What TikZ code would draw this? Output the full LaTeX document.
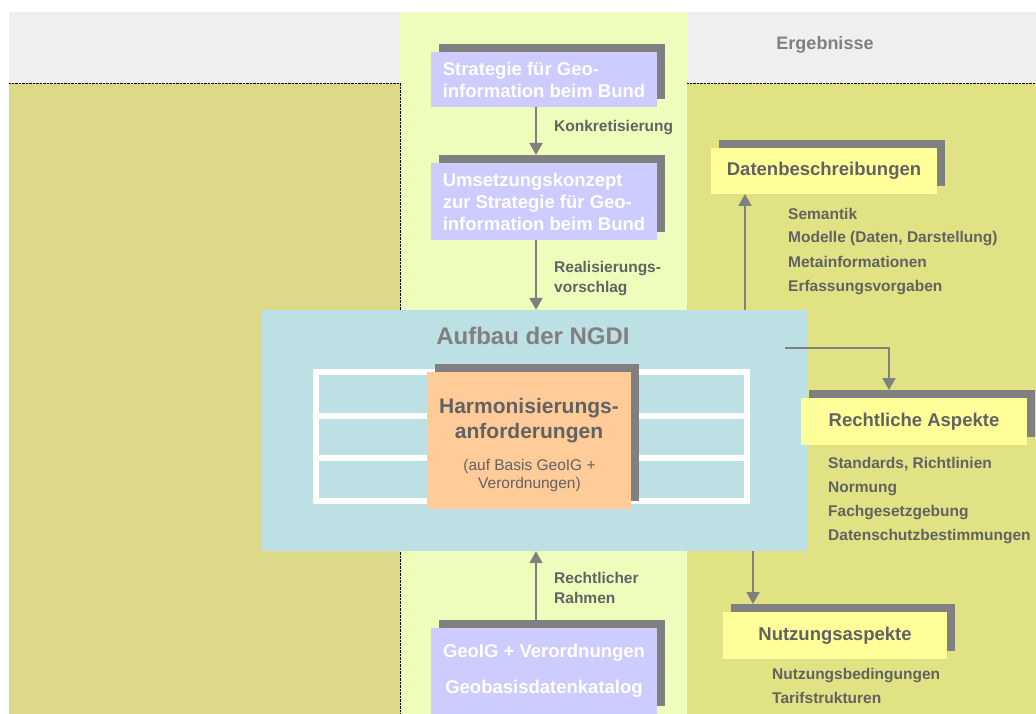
\documentclass[tikz,border=0pt]{standalone}
\usepackage{fontspec}
\setmainfont{Liberation Sans}
\usetikzlibrary{arrows.meta,shadows}

\definecolor{headgray}{HTML}{EFEFEF}
\definecolor{leftkhaki}{HTML}{DCDA88}
\definecolor{rightkhaki}{HTML}{E1E283}
\definecolor{midgreen}{HTML}{EEFDBC}
\definecolor{boxpurple}{HTML}{CCCCFF}
\definecolor{boxyellow}{HTML}{FFFF99}
\definecolor{ngdiblue}{HTML}{BCE0E4}
\definecolor{harmorange}{HTML}{FFCC99}
\definecolor{shadowgray}{HTML}{808080}
\definecolor{textgray}{HTML}{626262}

\begin{document}
\begin{tikzpicture}
        [%%%%%%%%%%%%%%%%%%%%%%%%%%%%%%
        x=1pt, y=-1pt,
        shadowbox/.style={rectangle, inner sep=0pt, outer sep=0pt,
          drop shadow={shadow xshift=8pt, shadow yshift=8pt, fill=shadowgray, opacity=1}},
        bundbox/.style={shadowbox, fill=boxpurple, text=white, font=\bfseries\fontsize{18.5}{22}\selectfont},
        resbox/.style={shadowbox, fill=boxyellow, text=textgray, font=\bfseries\fontsize{18.5}{22}\selectfont},
        lbl/.style={anchor=base west, inner sep=0pt, text=textgray, font=\bfseries\fontsize{15.5}{20}\selectfont},
        arr/.style={draw=shadowgray, line width=2pt, -{Triangle[width=13pt,length=12pt]}},
        ]%%%%%%%%%%%%%%%%%%%%%%%%%%%%%%
        \useasboundingbox (0,0) rectangle (1036,714);
        % Background columns
        \fill[headgray] (9,12) rectangle (1036,83);
        \fill[leftkhaki] (9,83) rectangle (400,714);
        \fill[rightkhaki] (687,83) rectangle (1036,714);
        \fill[midgreen] (400,12) rectangle (687,714);
        \draw[densely dotted] (9,83) -- (400,83) -- (400,714);
        \draw[densely dotted] (687,83) -- (1036,83);
        \node[anchor=base, text=shadowgray, font=\bfseries\fontsize{18}{22}\selectfont] (ergeb) at (825,50) {Ergebnisse};

        % Bund column
        \node[bundbox, minimum width=226, minimum height=55, align=left] (strat) at (544,79.5)
          {Strategie für Geo-\\information beim Bund};
        \node[bundbox, minimum width=226, minimum height=77, align=left] (umsetz) at (544,201.5)
          {Umsetzungskonzept\\zur Strategie für Geo-\\information beim Bund};
        \node[bundbox, minimum width=226, minimum height=86, align=center] (geoig) at (544,671)
          {GeoIG + Verordnungen\\[14pt]Geobasisdatenkatalog};

        % NGDI
        \node[fill=ngdiblue, minimum width=545, minimum height=241, inner sep=0pt] (ngdi) at (534.5,430.5) {};
        \node[anchor=base, text=shadowgray, font=\bfseries\fontsize{24}{28}\selectfont] (ngdititle) at (533,344) {Aufbau der NGDI};
        \draw[white, line width=6pt] (316,372) rectangle (747,501);
        \foreach \y in {416,458}
          \draw[white, line width=6pt] (313,\y) -- (750,\y);
        \node[shadowbox, fill=harmorange, minimum width=204, minimum height=137] (harm) at (529,440.5) {};
        \node[align=center, inner sep=0pt, text=textgray, font=\bfseries\fontsize{21}{25}\selectfont] (harmtitle) at (529,421)
          {Harmonisierungs-\\anforderungen};
        \node[align=center, inner sep=0pt, text=textgray, font=\fontsize{15.5}{18}\selectfont] (harmsub) at (529.5,475)
          {(auf Basis GeoIG +\\Verordnungen)};

        % Results
        \node[resbox, minimum width=226, minimum height=46] (daten) at (824,171) {Datenbeschreibungen};
        \node[resbox, minimum width=226, minimum height=47] (recht) at (914,421.5) {Rechtliche Aspekte};
        \node[resbox, minimum width=224, minimum height=47] (nutz) at (835,635.5) {Nutzungsaspekte};
        \foreach \t [count=\i] in {Semantik, {Modelle (Daten, Darstellung)}, Metainformationen, Erfassungsvorgaben}
          \node[lbl] (daten-\i) at (788,195+24*\i) {\t};
        \foreach \t [count=\i] in {{Standards, Richtlinien}, Normung, Fachgesetzgebung, Datenschutzbestimmungen}
          \node[lbl] (recht-\i) at (828,444+24*\i) {\t};
        \foreach \t [count=\i] in {Nutzungsbedingungen, Tarifstrukturen}
          \node[lbl] (nutz-\i) at (772,655+24*\i) {\t};

        % Arrow labels
        \node[lbl] (konk) at (554,132) {Konkretisierung};
        \foreach \t [count=\i] in {Realisierungs-, vorschlag}
          \node[lbl] (real-\i) at (554,252+20*\i) {\t};
        \foreach \t [count=\i] in {Rechtlicher, Rahmen}
          \node[lbl] (rahm-\i) at (554,563+20*\i) {\t};

        % Arrows
        \coordinate (u1) at ([xshift=-8pt]umsetz.south);
        \coordinate (g1) at ([xshift=-8pt,yshift=8pt]geoig.north);
        \coordinate (d1) at ([xshift=-79pt]daten.south);
        \coordinate (rs) at (785,348);
        \coordinate (r1) at ([xshift=-25pt,yshift=8pt]recht.north);
        \coordinate (n1) at ([xshift=-82pt,yshift=8pt]nutz.north);
        \draw[arr] ([xshift=-8pt]strat.south) -- ([xshift=-8pt,yshift=8pt]umsetz.north);
        \draw[arr] (u1) -- (u1 |- ngdi.north);
        \draw[arr] (g1) -- (g1 |- ngdi.south);
        \draw[arr] (d1 |- ngdi.north) -- (d1);
        \draw[arr] (rs) -| (r1);
        \draw[arr] (n1 |- ngdi.south) -- (n1);
\end{tikzpicture}
\end{document}
